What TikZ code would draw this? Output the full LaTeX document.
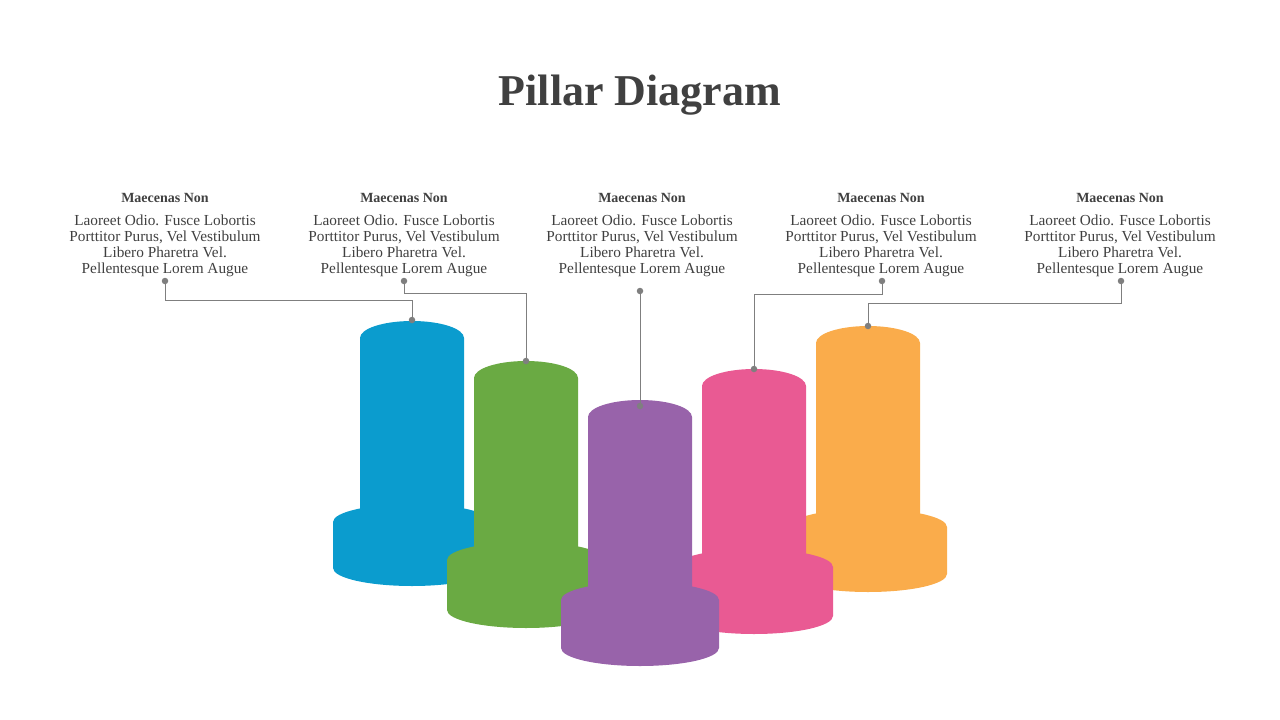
\documentclass[tikz,border=0pt]{standalone}
\usepackage{fontspec}
\setmainfont{Liberation Serif}
\definecolor{txt}{HTML}{404040}
\definecolor{cb}{HTML}{0B9CCE}
\definecolor{cg}{HTML}{6AAA43}
\definecolor{cp}{HTML}{9863AA}
\definecolor{ck}{HTML}{E95A93}
\definecolor{co}{HTML}{FAAC4B}
\definecolor{ln}{HTML}{7F7F7F}
\newcommand{\pillar}[5]{% color, cx, coltop, basetop, basebot
  \fill[#1] (#2-79,#4) -- (#2-79,#5) arc[start angle=180,end angle=0,x radius=79,y radius=18] -- (#2+79,#4) arc[start angle=0,end angle=-180,x radius=79,y radius=18] -- cycle;
  \fill[#1] (#2-52,#4+5) -- (#2-52,#3) arc[start angle=180,end angle=360,x radius=52,y radius=17] -- (#2+52,#4+5) -- cycle;
}
\begin{document}
\begin{tikzpicture}[x=1pt,y=-1pt,
  head/.style={font=\fontsize{14}{16}\selectfont\bfseries,text=txt},
  body/.style={font=\fontsize{15.3}{16}\selectfont,text=txt,align=center},
  dot/.style={circle,fill=ln,inner sep=0pt,minimum size=6.5pt},
  conn/.style={draw=ln,line width=0.9pt}]
\useasboundingbox (0,0) rectangle (1280,720);
\node[font=\fontsize{44}{50}\selectfont\bfseries,text=txt] (title) at (640,95) {Pillar Diagram};
\foreach \x/\n in {165/1,404/2,642/3,881/4,1120/5}{
  \node[head] (h\n) at (\x,198) {Maecenas Non};
  \node[body,anchor=north] (b\n) at (\x,211) {Laoreet Odio. Fusce Lobortis\\Porttitor Purus, Vel Vestibulum\\Libero Pharetra Vel.\\Pellentesque Lorem Augue};
}
\pillar{cb}{412}{338}{522}{568}
\pillar{co}{868}{343}{527}{574}
\pillar{cg}{526}{378}{560}{610}
\pillar{ck}{754}{386}{567}{616}
\pillar{cp}{640}{417}{600}{648}
\node[dot] (t1) at (165,281) {}; \node[dot] (p1) at (412,320) {};
\node[dot] (t2) at (404,281) {}; \node[dot] (p2) at (526,361) {};
\node[dot] (t3) at (640,291) {}; \node[dot] (p3) at (640,406) {};
\node[dot] (t4) at (882,281) {}; \node[dot] (p4) at (754,369) {};
\node[dot] (t5) at (1121,281) {}; \node[dot] (p5) at (868,326) {};
\draw[conn] (t1.center) -- (165,300) -| (p1.center);
\draw[conn] (t2.center) -- (404,293) -| (p2.center);
\draw[conn] (t3.center) -- (p3.center);
\draw[conn] (t4.center) -- (882,294) -| (p4.center);
\draw[conn] (t5.center) -- (1121,303) -| (p5.center);
\end{tikzpicture}
\end{document}
